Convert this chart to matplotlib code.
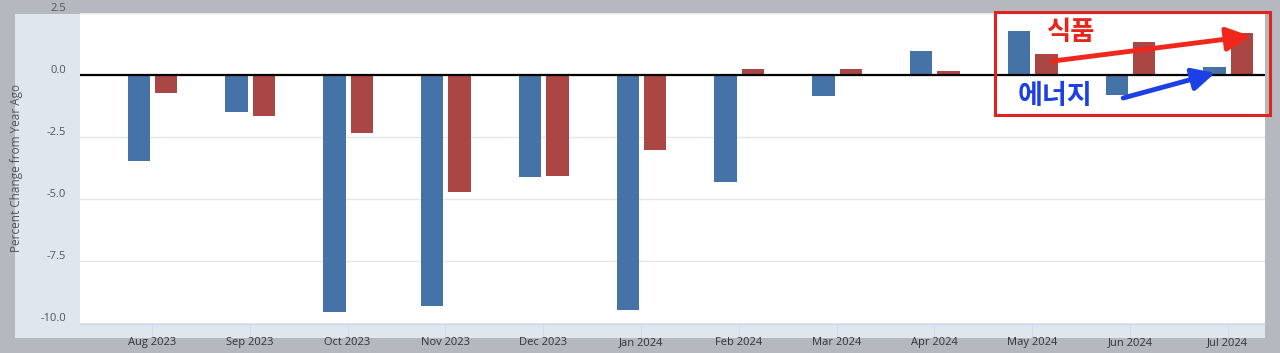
"""
Energy vs food CPI, percent change from year ago (Aug 2023 - Jul 2024).
"""

import matplotlib
matplotlib.use("Agg")
import matplotlib.pyplot as plt
from matplotlib.patches import Rectangle
from matplotlib.transforms import ScaledTranslation

# data
months = ["Aug 2023", "Sep 2023", "Oct 2023", "Nov 2023", "Dec 2023", "Jan 2024",
          "Feb 2024", "Mar 2024", "Apr 2024", "May 2024", "Jun 2024", "Jul 2024"]
energy = [-3.47, -1.49, -9.56, -9.31, -4.11, -9.49, -4.31, -0.85, 0.96, 1.79, -0.82, 0.34]
food = [-0.73, -1.65, -2.34, -4.73, -4.07, -3.02, 0.25, 0.26, 0.17, 0.83, 1.32, 1.68]
yticks = [-10.0, -7.5, -5.0, -2.5, 0.0, 2.5]

BLUE = "#4572a7"
RED = "#aa4643"
OUTER = "#b5b9bf"
PANEL = "#dfe6ee"

fig = plt.figure(figsize=(12.8, 3.53), dpi=100, facecolor=OUTER)

# light panel behind the plot
fig.patches.append(Rectangle((15 / 1280, 15 / 353), 1250 / 1280, 324 / 353,
                             transform=fig.transFigure, facecolor=PANEL,
                             edgecolor="none", zorder=-1))

ax = fig.add_axes([80 / 1280, 29 / 353, 1185 / 1280, 311 / 353])
ax.set_facecolor("white")

x = list(range(len(months)))
width = 0.23
ax.bar([i - 0.135 for i in x], energy, width, color=BLUE, zorder=3)
ax.bar([i + 0.145 for i in x], food, width, color=RED, zorder=3)

ax.axhline(0, color="black", lw=1.6, zorder=4)

ax.set_xlim(-0.736, 11.38)
ax.set_ylim(-10.05, 2.5)
ax.set_yticks(yticks)
ax.set_yticklabels([f"{v:.1f}" for v in yticks])
ax.yaxis.grid(True, color="#e6e6e6", lw=1, zorder=0)
ax.set_axisbelow(True)

ax.set_xticks(x)
ax.set_xticklabels(months)
ax.tick_params(axis="x", direction="out", length=10, color="#d3dbe8",
               pad=-0.5, labelsize=8, labelcolor="#333333")
ax.tick_params(axis="y", length=0, pad=10, labelsize=8, labelcolor="#555555")
for lbl in ax.get_xticklabels() + ax.get_yticklabels():
    lbl.set_family("Open Sans")
# Highcharts puts y labels slightly above the grid line
for lbl in ax.get_yticklabels():
    lbl.set_transform(lbl.get_transform() + ScaledTranslation(0, 6 / 100, fig.dpi_scale_trans))

for side in ["top", "left", "right"]:
    ax.spines[side].set_visible(False)
ax.spines["bottom"].set_color("#ccd6eb")

fig.text(17 / 1280, 1 - 168 / 353, "Percent Change from Year Ago", rotation=90,
         ha="center", va="center", fontsize=8.5, color="#555555", family="Open Sans")

# annotation overlay: box, labels and arrows
kr = ["Noto Sans CJK KR", "DejaVu Sans"]
ax.add_patch(Rectangle((8.62, -1.61), 2.81, 4.15, fill=False, edgecolor="#e0231c",
                       lw=2.2, clip_on=False, zorder=6))
ax.text(9.39, 1.73, "식품", color="#e8251c", fontsize=19, fontweight="bold",
        ha="center", va="center", family=kr, zorder=7)
ax.text(9.23, -0.83, "에너지", color="#1c3fe6", fontsize=19.5, fontweight="bold",
        ha="center", va="center", family=kr, zorder=7)
ax.annotate("", xy=(11.23, 1.57), xytext=(9.21, 0.56),
            arrowprops=dict(arrowstyle="-|>", color="#f2271c", lw=3.5,
                            mutation_scale=36, shrinkA=0, shrinkB=0),
            annotation_clip=False, zorder=7)
ax.annotate("", xy=(10.87, 0.08), xytext=(9.93, -0.93),
            arrowprops=dict(arrowstyle="-|>", color="#1c3fe6", lw=3.5,
                            mutation_scale=34, shrinkA=0, shrinkB=0),
            annotation_clip=False, zorder=7)

fig.savefig("out.png", dpi=100, facecolor=OUTER)
